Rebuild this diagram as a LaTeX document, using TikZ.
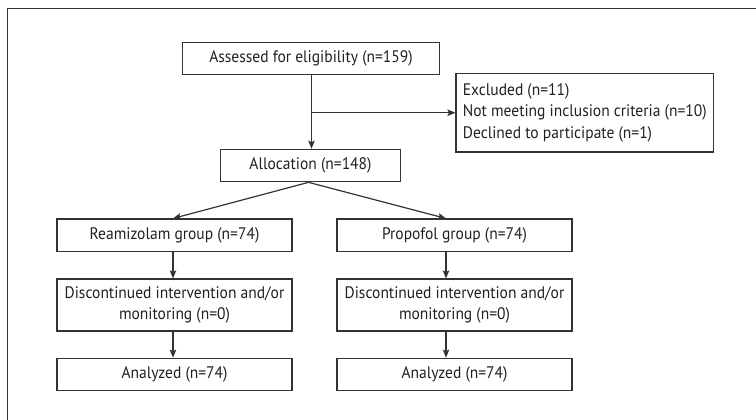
\documentclass[tikz,border=0pt]{standalone}
\usepackage{fontspec}
\setmainfont{PT Sans}[FakeStretch=0.93]
\usetikzlibrary{arrows.meta,calc}
\definecolor{linec}{HTML}{333333}
\definecolor{textc}{HTML}{231F20}
\begin{document}
\begin{tikzpicture}[x=1pt,y=-1pt,
  box/.style={draw=linec,line width=1.2pt,text=textc,inner sep=0pt,align=center,
    font=\fontsize{16.7}{21}\selectfont,minimum height=32.5pt},
  arr/.style={draw=linec,line width=1.2pt,-{Stealth[length=8pt,width=6.5pt,inset=1.5pt]}},
  conn/.style={draw=linec,line width=1.2pt}]
\useasboundingbox (0,0) rectangle (756,420);
\draw[draw=linec,line width=1pt] (7,420) -- (7,9) -- (756,9);

\node[box,minimum width=256.5pt] (assess) at (311,58.5) {Assessed for eligibility (n=159)};
\node[box,minimum height=78.5pt,minimum width=257.5pt,align=left,font=\fontsize{16.7}{21.5}\selectfont] (excl) at (584.75,112.75)
  {Excluded (n=11)\\Not meeting inclusion criteria (n=10)\\Declined to participate (n=1)};
\node[box,minimum width=179.5pt] (alloc) at (310.5,165.5) {Allocation (n=148)};

\node[box,minimum width=235pt] (reami) at (174.5,235.3) {Reamizolam group (n=74)};
\node[box,minimum width=235pt] (prop) at (454.5,235.3) {Propofol group (n=74)};
\node[box,minimum width=235pt,minimum height=52pt] (discL) at (174.5,305) {Discontinued intervention and/or\\monitoring (n=0)};
\node[box,minimum width=235pt,minimum height=52pt] (discR) at (454.5,305) {Discontinued intervention and/or\\monitoring (n=0)};
\node[box,minimum width=235pt] (analL) at (174.5,374.5) {Analyzed (n=74)};
\node[box,minimum width=235pt] (analR) at (454.5,374.5) {Analyzed (n=74)};

\coordinate (vx) at ([xshift=0.5pt]assess.south);
\coordinate (fork) at ([xshift=-2pt]alloc.south);
\coordinate (lx) at ([xshift=-1.5pt]reami.north);
\coordinate (rx) at ([xshift=-8.5pt]prop.north);

\draw[arr] (vx) -- (vx |- alloc.north);
\draw[arr] (vx |- excl.west) -- (excl.west);
\draw[arr] (fork) -- (lx);
\draw[arr] (fork) -- (rx);
\draw[arr] (lx |- reami.south) -- (lx |- discL.north);
\draw[arr] (lx |- discL.south) -- (lx |- analL.north);
\draw[arr] (rx |- prop.south) -- (rx |- discR.north);
\draw[arr] (rx |- discR.south) -- (rx |- analR.north);
\end{tikzpicture}
\end{document}
